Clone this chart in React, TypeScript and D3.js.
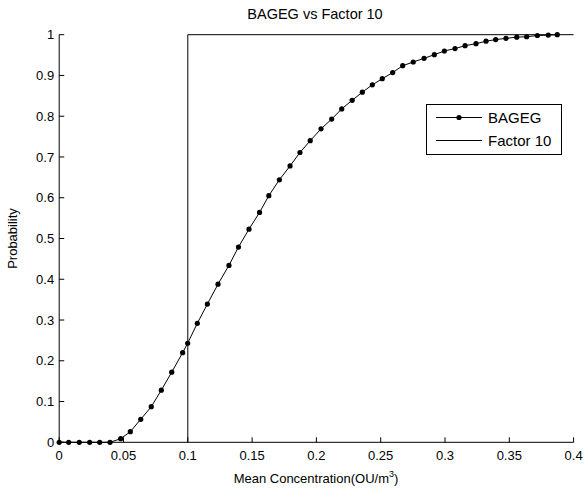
import React from "react";
import * as d3 from "d3";

const bagegX = [0, 0.0074, 0.0156, 0.0237, 0.0315, 0.0395, 0.0478, 0.0553, 0.0634, 0.0716, 0.0794, 0.0875, 0.096, 0.0999, 0.1074, 0.1152, 0.1235, 0.132, 0.1394, 0.1476, 0.1558, 0.163, 0.1712, 0.1795, 0.1872, 0.1952, 0.2036, 0.2119, 0.2197, 0.2278, 0.2357, 0.2435, 0.2512, 0.2593, 0.2671, 0.2753, 0.2837, 0.2917, 0.2995, 0.3078, 0.3156, 0.3241, 0.3319, 0.3394, 0.3474, 0.3558, 0.3635, 0.3718, 0.3803, 0.3873];
const bagegY = [0, 0, 0, 0, 0, 0, 0.0088, 0.026, 0.0564, 0.0873, 0.128, 0.172, 0.22, 0.243, 0.292, 0.339, 0.388, 0.434, 0.479, 0.523, 0.564, 0.605, 0.644, 0.678, 0.711, 0.74, 0.769, 0.793, 0.818, 0.839, 0.859, 0.877, 0.892, 0.907, 0.924, 0.933, 0.942, 0.951, 0.96, 0.966, 0.973, 0.978, 0.984, 0.988, 0.991, 0.994, 0.995, 0.998, 0.999, 1.0];
const factorX = [0.1, 0.1, 0.4];
const factorY = [0, 1, 1];
const xTicks = [0, 0.05, 0.1, 0.15, 0.2, 0.25, 0.3, 0.35, 0.4];
const yTicks = [0, 0.1, 0.2, 0.3, 0.4, 0.5, 0.6, 0.7, 0.8, 0.9, 1];
const seriesNames = ["BAGEG", "Factor 10"];
const title = "BAGEG vs Factor 10";

export default function App() {
  const W = 585, H = 490;
  const x = d3.scaleLinear().domain([0, 0.4]).range([59.2, 573.6]);
  const y = d3.scaleLinear().domain([0, 1]).range([442.3, 34.7]);
  const line = d3.line<[number, number]>().x(d => x(d[0])).y(d => y(d[1]));
  const bag: [number, number][] = bagegX.map((v, i) => [v, bagegY[i]]);
  const fac: [number, number][] = factorX.map((v, i) => [v, factorY[i]]);
  const font = "Arial, 'Liberation Sans', Helvetica, sans-serif";
  const fmt = (v: number) => String(+v.toFixed(2));
  const x0 = x(0), y0 = y(0);
  return (
    <svg width={W} height={H} style={{ position: "absolute", left: 0, top: 0, background: "#fff" }} fontFamily={font}>
      <rect width={W} height={H} fill="#fff" />
      {/* axes */}
      <line x1={x0} x2={x(0.4)} y1={y0} y2={y0} stroke="#000" strokeWidth={1} />
      <line x1={x0} x2={x0} y1={y0} y2={y(1)} stroke="#000" strokeWidth={1} />
      {xTicks.map(t => (
        <g key={"xt" + t}>
          <line x1={x(t)} x2={x(t)} y1={y0} y2={y0 - 5} stroke="#000" strokeWidth={1} />
          <text x={x(t)} y={460} fontSize={13} textAnchor="middle" fill="#000">{fmt(t)}</text>
        </g>
      ))}
      {yTicks.map(t => (
        <g key={"yt" + t}>
          <line x1={x0} x2={x0 + 5} y1={y(t)} y2={y(t)} stroke="#000" strokeWidth={1} />
          <text x={x0 - 5} y={y(t)} dy="0.35em" fontSize={13} textAnchor="end" fill="#000">{fmt(t)}</text>
        </g>
      ))}
      {/* series */}
      <path d={line(fac) || ""} fill="none" stroke="#000" strokeWidth={1} />
      <path d={line(bag) || ""} fill="none" stroke="#000" strokeWidth={1} />
      {bag.map((d, i) => (
        <circle key={"p" + i} cx={x(d[0])} cy={y(d[1])} r={2.6} fill="#000" />
      ))}
      {/* title & labels */}
      <text x={315} y={19} fontSize={14.5} textAnchor="middle" fill="#000">{title}</text>
      <text x={316} y={483} fontSize={13} textAnchor="middle" fill="#000">
        Mean Concentration(OU/m<tspan dy={-6} fontSize={9}>3</tspan><tspan dy={6}>)</tspan>
      </text>
      <text transform={`translate(17,${(y0 + y(1)) / 2}) rotate(-90)`} fontSize={13} textAnchor="middle" fill="#000">Probability</text>
      {/* legend */}
      <rect x={426.5} y={104.5} width={135} height={50} fill="#fff" stroke="#000" strokeWidth={1} />
      <line x1={436} x2={482} y1={117.5} y2={117.5} stroke="#000" strokeWidth={1} />
      <circle cx={459} cy={117.5} r={2.6} fill="#000" />
      <text x={488} y={117.5} dy="0.35em" fontSize={15} fill="#000">{seriesNames[0]}</text>
      <line x1={436} x2={482} y1={140.5} y2={140.5} stroke="#000" strokeWidth={1} />
      <text x={488} y={140.5} dy="0.35em" fontSize={15} fill="#000">{seriesNames[1]}</text>
    </svg>
  );
}
